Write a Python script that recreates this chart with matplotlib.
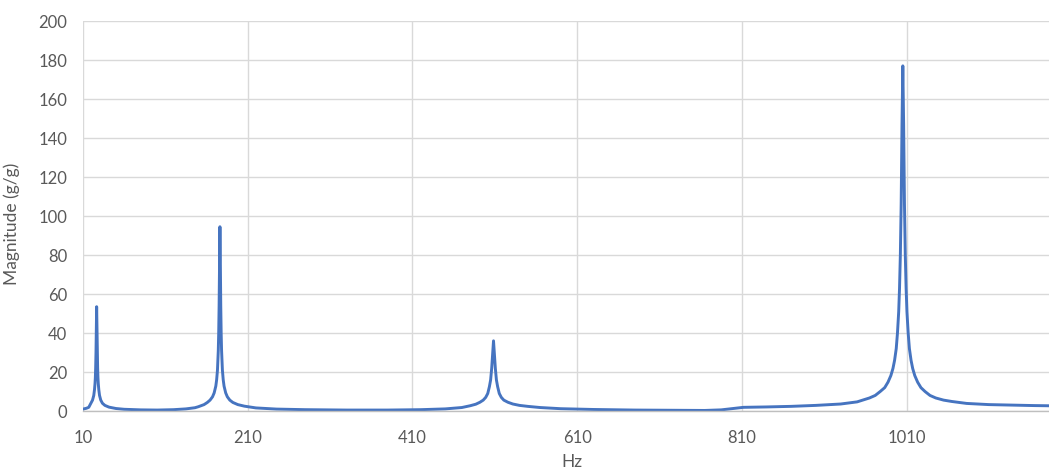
import matplotlib
matplotlib.use("Agg")
import matplotlib.pyplot as plt

# Frequency response samples (Hz, g/g)
freq_hz = [
    # first mode
    10, 14, 17, 19.6, 21.6, 23.1, 24, 24.6, 25, 25.4, 25.8, 26.2, 26.6,
    27, 27.4, 27.8, 28.2, 28.6, 29.2, 30.1, 31.6, 33.6, 36.6, 41.6, 50, 60,
    80, 100, 120, 135,
    # second mode
    146, 150, 157, 161, 164.3, 167.3, 169.3, 171.3, 172.3, 173.3, 174.3,
    174.8, 175.3, 175.8, 176.3, 176.8, 177.3, 177.8, 178.3, 179.3, 180.3,
    181.3, 183.3, 185.3, 188.3, 192, 198, 206, 220, 245, 280, 330, 380,
    # third mode
    420, 450, 470, 480, 487, 492, 496, 499, 501.5, 503.5, 505, 506.3, 507.5,
    508.5, 509.5, 510.7, 512, 513.5, 515.5, 518, 521, 526, 532, 540, 550,
    565, 590, 630, 680, 730, 765, 785, 800, 812, 840, 870, 900,
    # fourth mode
    930, 950, 965, 972, 978, 983.5, 987.5, 991, 993.5, 995.5, 997.5, 999,
    1000.5, 1001.5, 1002.5, 1003.5, 1004.5, 1005.5, 1006.5, 1007.5, 1008.5,
    1009.5, 1010.5, 1012, 1013.5, 1015.5, 1017.5, 1020, 1023.5, 1027.5,
    1032.5, 1038.5, 1045.5, 1055, 1065, 1083, 1110, 1140, 1165, 1183,
]
magnitude = [
    1.0, 1.4, 1.9, 4.0, 5.6, 8, 11, 14, 17, 22, 30, 43, 53.5,
    43, 30, 22, 17, 14, 11, 8, 5.6, 4.0, 2.9, 2.0, 1.3, 0.9,
    0.6, 0.5, 0.7, 1.1,
    1.7, 2.2, 3.3, 4.4, 5.6, 7.3, 9.3, 12.8, 16, 21, 31,
    40, 54, 77, 94.5, 77, 54, 40, 31, 21, 16,
    12.8, 9.3, 7.3, 5.6, 4.4, 3.3, 2.5, 1.6, 1.0, 0.7, 0.5, 0.5,
    0.7, 1.1, 1.8, 2.7, 3.5, 4.5, 5.6, 7, 9, 12.5, 16, 22, 30,
    36, 30, 22, 16, 12.5, 9, 7, 5.6, 4.5, 3.6, 2.9, 2.4,
    1.8, 1.2, 0.8, 0.5, 0.35, 0.3, 0.6, 1.3, 1.9, 2.1, 2.4, 2.9,
    3.6, 4.7, 6.7, 8, 10, 12, 14.8, 18.2, 21.8, 26, 32, 40,
    51, 63, 80, 106, 147, 177, 147, 106, 80,
    63, 51, 40, 32, 26, 21.8, 18.2, 14.8, 12,
    10, 8, 6.7, 5.6, 4.9, 3.9, 3.3, 3.0, 2.8, 2.7,
]

x_ticks = [10, 210, 410, 610, 810, 1010]
y_ticks = list(range(0, 201, 20))

plt.rcParams["font.family"] = ["Lato", "DejaVu Sans"]

fig = plt.figure(figsize=(10.49, 4.73), dpi=100)
ax = fig.add_axes([0.0791, 0.131, 0.9209, 0.8246])

ax.plot(freq_hz, magnitude, color="#4674C0", linewidth=2.1,
        solid_joinstyle="round", solid_capstyle="round")

ax.set_xlim(10, 1183)
ax.set_ylim(0, 200)
ax.set_xticks(x_ticks)
ax.set_yticks(y_ticks)
ax.grid(True, color="#D9D9D9", linewidth=1.0)
ax.set_axisbelow(True)

for side in ("top", "right", "left"):
    ax.spines[side].set_visible(False)
ax.spines["bottom"].set_color("#BFBFBF")
ax.spines["bottom"].set_linewidth(1.0)

ax.tick_params(axis="both", length=0, labelsize=12, labelcolor="#595959")
ax.tick_params(axis="y", pad=11.5)
ax.tick_params(axis="x", pad=13.5)

ax.set_xlabel("Hz", fontsize=12.5, color="#595959")
ax.set_ylabel("Magnitude (g/g)", fontsize=12.5, color="#595959")
ax.xaxis.set_label_coords(0.506, -0.111)
ax.yaxis.set_label_coords(-0.0652, 0.48)

fig.savefig("out.png", dpi=100, facecolor="white")
